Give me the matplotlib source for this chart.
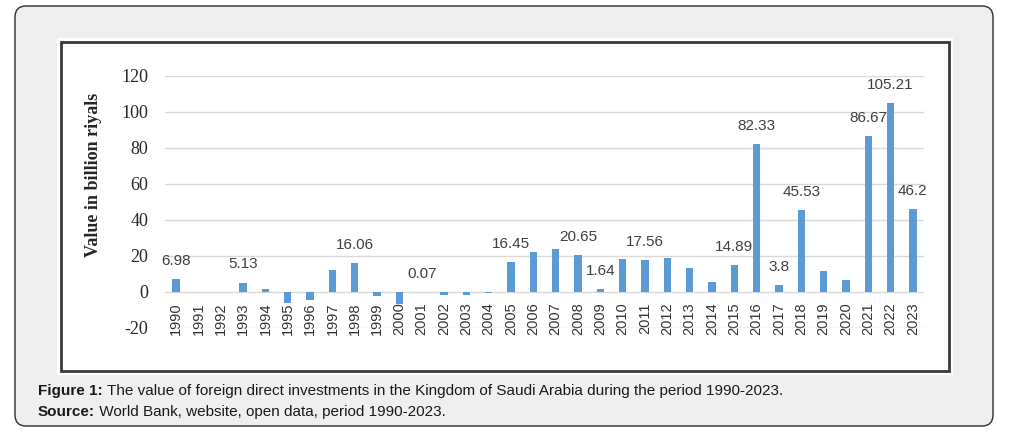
import matplotlib
matplotlib.use("Agg")
import matplotlib.pyplot as plt
from matplotlib.patches import FancyBboxPatch, Rectangle

years = [str(y) for y in range(1990, 2024)]
values = [6.98, 0, 0, 5.13, 1.8, -6.5, -4.4, 11.9, 16.06, -2.4,
          -6.8, 0.07, -2.0, -2.0, -0.8, 16.45, 22.2, 23.5, 20.65, 1.64,
          18.2, 17.56, 18.9, 13.0, 5.6, 14.89, 82.33, 3.8, 45.53, 11.7,
          6.5, 86.67, 105.21, 46.2]
label_years = ["1990", "1993", "1998", "2001", "2005", "2008", "2009", "2011",
               "2015", "2016", "2017", "2018", "2021", "2022", "2023"]
y_ticks = [-20, 0, 20, 40, 60, 80, 100, 120]
y_label = "Value in billion riyals"
caption_bold = "Figure 1:"
caption_text = " The value of foreign direct investments in the Kingdom of Saudi Arabia during the period 1990-2023."
source_bold = "Source:"
source_text = " World Bank, website, open data, period 1990-2023."

W, H = 1011, 432
fig = plt.figure(figsize=(W / 100, H / 100), dpi=100)
fig.patch.set_facecolor("white")

def inch(x, y):
    return (x / 100, (H - y) / 100)

# outer rounded panel
x0, y0 = inch(15, 426)
outer = FancyBboxPatch((x0, y0), (993 - 15) / 100, (426 - 6) / 100,
                       boxstyle="round,pad=0,rounding_size=0.11",
                       transform=fig.dpi_scale_trans, facecolor="#efefef",
                       edgecolor="#2b2b2b", linewidth=1.0, zorder=-3)
fig.add_artist(outer)
# white image region
x1, y1 = inch(57, 375)
fig.add_artist(Rectangle((x1, y1), (953 - 57) / 100, (375 - 38) / 100,
                         transform=fig.dpi_scale_trans, facecolor="white",
                         edgecolor="none", zorder=-2))
# dark border of chart image
x2, y2 = inch(61, 371)
fig.add_artist(Rectangle((x2, y2), (949 - 61) / 100, (371 - 42) / 100,
                         transform=fig.dpi_scale_trans, facecolor="none",
                         edgecolor="#3a3a3a", linewidth=2.0, zorder=-1))

left, right, top, bottom = 165, 924, 76, 327.7
ax = fig.add_axes([left / W, 1 - bottom / H, (right - left) / W, (bottom - top) / H])
ax.set_facecolor("none")
ax.set_zorder(2)
for s in ax.spines.values():
    s.set_visible(False)
ax.spines["bottom"].set_position(("data", 0))

xpos = list(range(len(years)))
bars = ax.bar(xpos, values, width=0.33, color="#5b9bd5", zorder=3)
ax.set_xlim(-0.5, len(years) - 0.5)
ax.set_ylim(-20, 120)
ax.set_yticks(y_ticks)
ax.set_yticklabels([str(t) for t in y_ticks], fontfamily="Liberation Serif",
                   fontsize=13, color="#262626")
ax.set_xticks(xpos)
ax.set_xticklabels(years, fontfamily="Liberation Sans", fontsize=10.5, color="#333333")
ax.tick_params(axis="x", length=0, pad=7.5, labelrotation=90)
ax.tick_params(axis="y", length=0, pad=12)
ax.grid(axis="y", color="#d9d9d9", linewidth=1.0, zorder=0)
ax.set_axisbelow(True)

for yr, v, x in zip(years, values, xpos):
    if yr in label_years:
        ax.annotate(f"{v:g}", (x, v), xytext=(0, 13), textcoords="offset points",
                    ha="center", va="center", fontfamily="Liberation Sans",
                    fontsize=11, color="#404040", zorder=4)

fig.text(93 / W, 1 - 175 / H, y_label, rotation=90, ha="center", va="center",
         fontfamily="Liberation Serif", fontweight="bold", fontsize=13, color="#262626")

t1 = fig.text(38 / W, 1 - 391 / H, caption_bold, ha="left", va="center",
              fontfamily="Liberation Sans", fontweight="bold", fontsize=11, color="#1a1a1a")
fig.canvas.draw()
bb = t1.get_window_extent()
fig.text(bb.x1 / W, 1 - 391 / H, caption_text, ha="left", va="center",
         fontfamily="Liberation Sans", fontsize=11, color="#1a1a1a")
t2 = fig.text(38 / W, 1 - 412 / H, source_bold, ha="left", va="center",
              fontfamily="Liberation Sans", fontweight="bold", fontsize=11, color="#1a1a1a")
fig.canvas.draw()
bb2 = t2.get_window_extent()
fig.text(bb2.x1 / W, 1 - 412 / H, source_text, ha="left", va="center",
         fontfamily="Liberation Sans", fontsize=11, color="#1a1a1a")

fig.savefig("out.png", dpi=100)
